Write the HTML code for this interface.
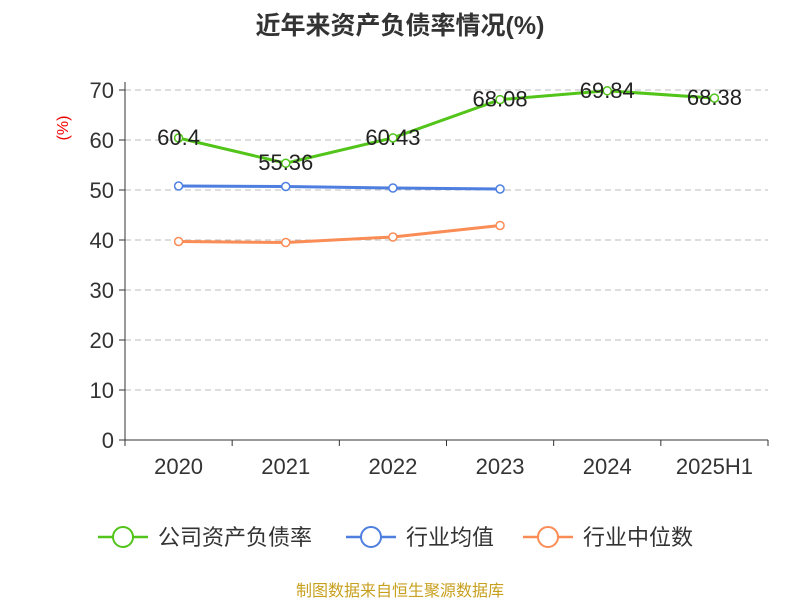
<!DOCTYPE html>
<html><head><meta charset="utf-8"><style>
body{margin:0;background:#fff;font-family:"Liberation Sans","Noto Sans CJK SC",sans-serif}
</style></head><body>
<svg width="800" height="600" xmlns="http://www.w3.org/2000/svg" font-family="Liberation Sans, Noto Sans CJK SC, sans-serif">
<text x="400" y="34" text-anchor="middle" font-size="25" font-weight="bold" fill="#333">近年来资产负债率情况(%)</text>
<text x="68" y="128" text-anchor="middle" font-size="16" fill="#e00" transform="rotate(-90 68 128)">(%)</text>
<g id="grid"></g><g id="axes"></g><g id="series"></g>
<g font-size="22" fill="#333">
<g><line x1="98" y1="537" x2="148" y2="537" stroke="#52c41a" stroke-width="2.5"/><circle cx="123" cy="537" r="10" fill="#fff" stroke="#52c41a" stroke-width="2"/><text x="158" y="545">公司资产负债率</text></g>
<g><line x1="346" y1="537" x2="396" y2="537" stroke="#4e7fe0" stroke-width="2.5"/><circle cx="371" cy="537" r="10" fill="#fff" stroke="#4e7fe0" stroke-width="2"/><text x="406" y="545">行业均值</text></g>
<g><line x1="523" y1="537" x2="573" y2="537" stroke="#fa8c55" stroke-width="2.5"/><circle cx="548" cy="537" r="10" fill="#fff" stroke="#fa8c55" stroke-width="2"/><text x="583" y="545">行业中位数</text></g>
</g>
<text x="400" y="596" text-anchor="middle" font-size="16" fill="#c8a020">制图数据来自恒生聚源数据库</text>
</svg>
<script>
const categories=["2020","2021","2022","2023","2024","2025H1"];
const companyValues=[60.4,55.36,60.43,68.08,69.84,68.38];
const avgValues=[50.8,50.7,50.4,50.2];
const medianValues=[39.7,39.5,40.6,42.9];
const yTicks=[0,10,20,30,40,50,60,70];
const NS="http://www.w3.org/2000/svg";
const x0=125,x1=768,yBase=440,yTop=90,yMax=70;
const band=(x1-x0)/categories.length;
const xs=i=>x0+band*(i+0.5);
const ys=v=>yBase-(v/yMax)*(yBase-yTop);
function mk(tag,attrs,parent){const e=document.createElementNS(NS,tag);for(const k in attrs)e.setAttribute(k,attrs[k]);parent.appendChild(e);return e;}
const grid=document.getElementById('grid'),axes=document.getElementById('axes'),ser=document.getElementById('series');
yTicks.forEach(t=>{
 if(t>0){const g=mk('line',{x1:x0,x2:x1,y1:ys(t),y2:ys(t),stroke:'#bbb','stroke-dasharray':'6,4'},grid);
 
 }
 const tk=mk('line',{x1:x0-6,x2:x0,y1:ys(t),y2:ys(t),stroke:'#333'},axes);
 
 
 const l=mk('text',{x:x0-11,y:ys(t)+8,'text-anchor':'end','font-size':22,fill:'#333'},axes);l.textContent=t;
 
 
});
const ya=mk('line',{x1:x0,x2:x0,y1:yTop-8,y2:yBase,stroke:'#333'},axes);


const xa=mk('line',{x1:x0,x2:x1,y1:yBase,y2:yBase,stroke:'#333'},axes);


for(let i=0;i<=categories.length;i++){const t=mk('line',{x1:x0+band*i,x2:x0+band*i,y1:yBase,y2:yBase+6,stroke:'#333'},axes);
 
 }
categories.forEach((c,i)=>{const l=mk('text',{x:xs(i),y:yBase+34,'text-anchor':'middle','font-size':22,fill:'#333'},axes);l.textContent=c;
 
 });
function series(vals,color,name,labels){
 const p=mk('polyline',{points:vals.map((v,i)=>xs(i)+','+ys(v)).join(' '),fill:'none',stroke:color,'stroke-width':3},ser);
 
 
 vals.forEach((v,i)=>{const c=mk('circle',{cx:xs(i),cy:ys(v),r:4,fill:'#fff',stroke:color,'stroke-width':1.5},ser);
  
  
  if(labels){const t=mk('text',{x:xs(i),y:ys(v)+7,'text-anchor':'middle','font-size':22,fill:'#222'},ser);t.textContent=v;
  
  }});
}
series(medianValues,'#fa8c55','industry-median',false);
series(avgValues,'#4e7fe0','industry-avg',false);
series(companyValues,'#52c41a','company',true);
</script>
</body></html>
